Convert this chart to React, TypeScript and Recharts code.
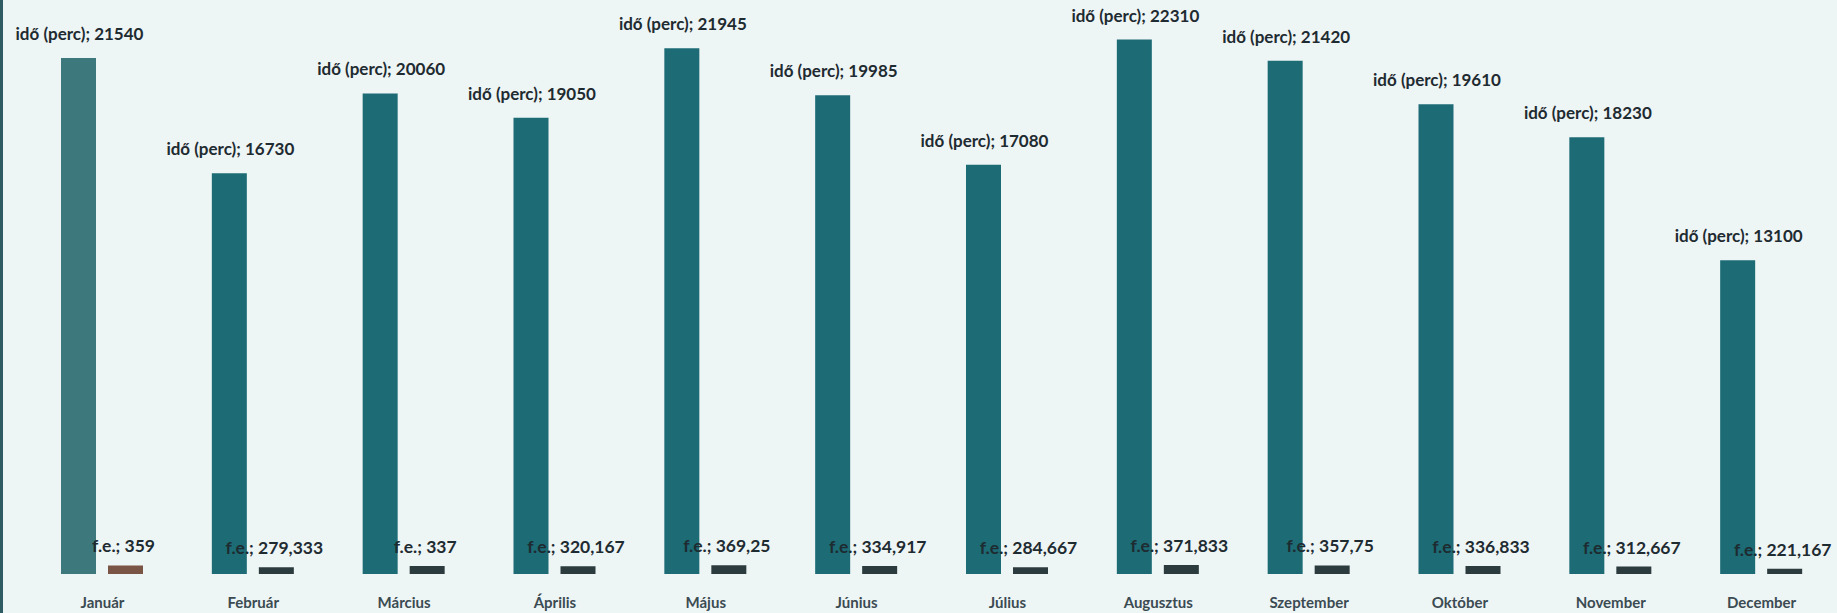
import { BarChart, Bar, XAxis, YAxis, LabelList, Cell } from 'recharts'

const months = ['Január', 'Február', 'Március', 'Április', 'Május', 'Június', 'Július', 'Augusztus', 'Szeptember', 'Október', 'November', 'December']
const idoPerc = [21540, 16730, 20060, 19050, 21945, 19985, 17080, 22310, 21420, 19610, 18230, 13100]
const fe = [359, 279.333, 337, 320.167, 369.25, 334.917, 284.667, 371.833, 357.75, 336.833, 312.667, 221.167]

const data = months.map((m, i) => ({ month: m, ido: idoPerc[i], fe: fe[i] }))

const TEAL = '#1c6b75'
const DARK = '#2b3b3e'
const TEXT = '#1e2b31'
const FONT = 'Lato, "Open Sans", sans-serif'

const fmt = (v: number) => String(v).replace('.', ',')

const idoLabel = (props: any) => {
  const { x, y, width, value } = props
  return (
    <text x={x + width / 2 + 1} y={y - 18} textAnchor="middle" fontFamily={FONT} fontWeight={700} fontSize={17} fill={TEXT}>
      {'idő (perc); ' + fmt(value)}
    </text>
  )
}

const feLabel = (props: any) => {
  const { x, y, width, value } = props
  return (
    <text x={x + width / 2 - 2} y={y - 13} textAnchor="middle" fontFamily={FONT} fontWeight={700} fontSize={17.5} fill={TEXT}>
      {'f.e.; ' + fmt(value)}
    </text>
  )
}

const MonthTick = (props: any) => {
  const { x, y, payload } = props
  return (
    <text x={x} y={y + 34} textAnchor="middle" fontFamily={FONT} fontWeight={700} fontSize={15} fill="#3b4b52">
      {payload.value}
    </text>
  )
}

const App = () => {
  return (
    <div style={{ position: 'absolute', left: 0, top: 0, width: 1837, height: 613, background: '#eef5f5', overflow: 'hidden' }}>
      <div style={{ position: 'absolute', left: 0, top: 0, width: 3, height: 613, background: '#2f5c62' }} />
      <BarChart
        width={1837}
        height={613}
        data={data}
        margin={{ top: 0, right: 0, bottom: 0, left: 27 }}
        barGap={12}
        barSize={35}
      >
        <XAxis dataKey="month" axisLine={false} tickLine={false} tickSize={0} tickMargin={0} height={39} tick={<MonthTick />} interval={0} />
        <YAxis hide domain={[0, 23960]} allowDataOverflow />
        <Bar dataKey="ido" fill={TEAL} isAnimationActive={false}>
          {data.map((_, i) => (
            <Cell key={i} fill={i === 0 ? '#3d787d' : TEAL} />
          ))}
          <LabelList dataKey="ido" content={idoLabel} />
        </Bar>
        <Bar dataKey="fe" fill={DARK} isAnimationActive={false}>
          {data.map((_, i) => (
            <Cell key={i} fill={i === 0 ? '#7a5445' : DARK} />
          ))}
          <LabelList dataKey="fe" content={feLabel} />
        </Bar>
      </BarChart>
    </div>
  )
}

export default App
